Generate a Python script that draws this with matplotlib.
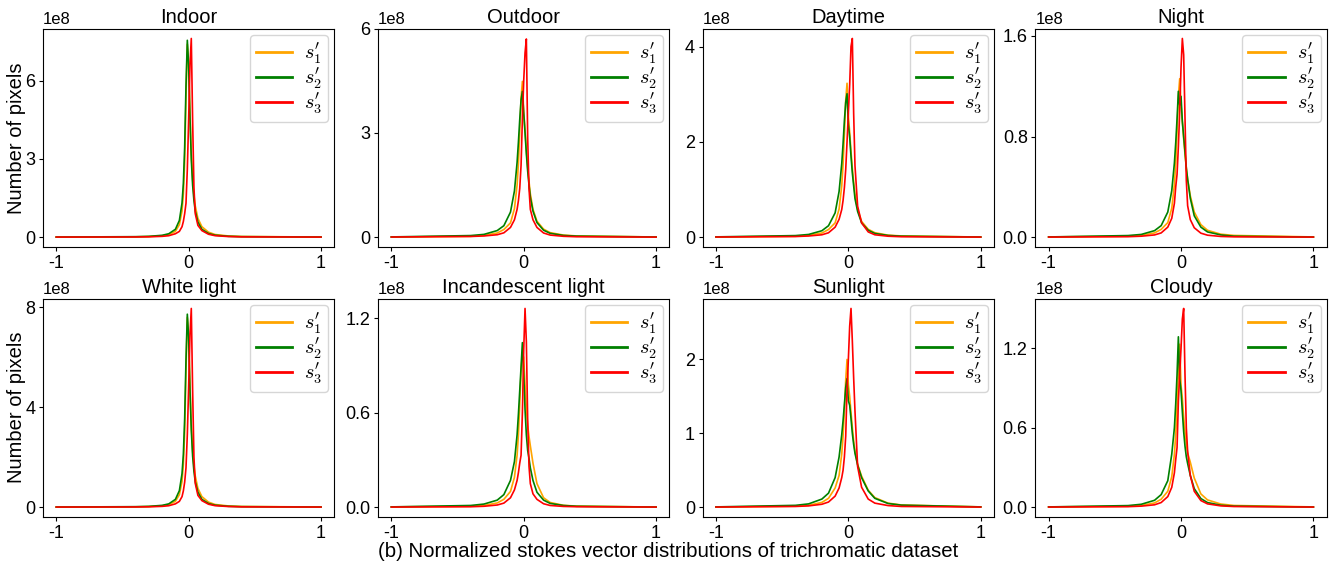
import matplotlib
matplotlib.use("Agg")
import matplotlib.pyplot as plt
from matplotlib.lines import Line2D

plt.rcParams['font.family'] = ['Liberation Sans', 'DejaVu Sans']
plt.rcParams['mathtext.fontset'] = 'cm'
plt.rcParams['axes.unicode_minus'] = False

# normalized stokes value (bin centre)
x = [-1.0, -0.4, -0.3, -0.2, -0.15, -0.1, -0.07, -0.05, -0.04, -0.03, -0.02, -0.01, 0.0,
     0.01, 0.02, 0.03, 0.04, 0.05, 0.07, 0.1, 0.15, 0.2, 0.3, 0.4, 1.0]

# pixel counts, in units of 1e8
indoor_s1 = [0.002, 0.012, 0.022, 0.05, 0.095, 0.22, 0.48, 1.0, 1.65, 2.9, 5.4, 7.4, 6.7, 4.8, 3.2, 2.2, 1.6, 1.2, 0.72, 0.4, 0.19, 0.1, 0.045, 0.025, 0.003]
indoor_s2 = [0.003, 0.017, 0.03, 0.07, 0.13, 0.30, 0.64, 1.31, 2.05, 3.45, 5.8, 7.55, 6.6, 4.6, 3.0, 2.0, 1.4, 1.0, 0.58, 0.3, 0.14, 0.075, 0.032, 0.018, 0.003]
indoor_s3 = [0.002, 0.006, 0.012, 0.03, 0.055, 0.13, 0.22, 0.4, 0.6, 0.9, 1.3, 2.6, 4.5, 6.6, 7.62, 4.5, 1.9, 0.9, 0.45, 0.25, 0.11, 0.055, 0.022, 0.01, 0.002]

outdoor_s1 = [0.004, 0.024, 0.05, 0.12, 0.22, 0.41, 0.82, 1.5, 2.12, 3.0, 3.99, 4.48, 3.6, 3.1, 2.5, 2.0, 1.6, 1.25, 0.8, 0.46, 0.23, 0.13, 0.06, 0.035, 0.005]
outdoor_s2 = [0.007, 0.046, 0.08, 0.19, 0.33, 0.72, 1.33, 2.15, 2.73, 3.38, 3.95, 4.19, 3.57, 3.0, 2.4, 1.9, 1.5, 1.15, 0.75, 0.42, 0.2, 0.11, 0.05, 0.03, 0.005]
outdoor_s3 = [0.004, 0.02, 0.035, 0.07, 0.125, 0.28, 0.5, 0.8, 1.05, 1.4, 2.07, 3.4, 4.5, 5.3, 5.7, 2.85, 1.4, 0.8, 0.5, 0.28, 0.12, 0.06, 0.025, 0.012, 0.002]

daytime_s1 = [0.003, 0.019, 0.036, 0.087, 0.16, 0.30, 0.59, 1.08, 1.52, 2.16, 2.87, 3.23, 2.54, 2.2, 1.8, 1.45, 1.16, 0.9, 0.58, 0.33, 0.165, 0.094, 0.042, 0.026, 0.003]
daytime_s2 = [0.006, 0.033, 0.057, 0.135, 0.24, 0.51, 0.96, 1.54, 1.96, 2.44, 2.83, 3.01, 2.36, 2.1, 1.7, 1.35, 1.08, 0.81, 0.54, 0.30, 0.145, 0.078, 0.036, 0.021, 0.003]
daytime_s3 = [0.003, 0.013, 0.025, 0.05, 0.092, 0.21, 0.375, 0.58, 0.77, 1.04, 1.42, 2.0, 2.6, 3.2, 4.0, 4.17, 2.6, 1.5, 0.65, 0.3, 0.11, 0.05, 0.02, 0.009, 0.002]

night_s1 = [0.002, 0.008, 0.014, 0.034, 0.062, 0.116, 0.23, 0.42, 0.59, 0.84, 1.12, 1.26, 1.05, 0.92, 0.78, 0.66, 0.55, 0.46, 0.33, 0.2, 0.1, 0.055, 0.024, 0.014, 0.002]
night_s2 = [0.002, 0.013, 0.022, 0.052, 0.092, 0.2, 0.37, 0.59, 0.75, 0.94, 1.16, 1.05, 1.12, 0.92, 0.8, 0.68, 0.55, 0.46, 0.31, 0.17, 0.08, 0.042, 0.018, 0.008, 0.001]
night_s3 = [0.001, 0.004, 0.008, 0.018, 0.034, 0.08, 0.15, 0.27, 0.4, 0.5, 0.72, 1.0, 1.35, 1.58, 1.45, 0.95, 0.45, 0.25, 0.14, 0.075, 0.032, 0.016, 0.006, 0.003, 0.001]

white_s1 = [0.002, 0.012, 0.022, 0.05, 0.1, 0.23, 0.5, 1.03, 1.7, 3.0, 5.5, 7.6, 6.9, 4.9, 3.3, 2.25, 1.65, 1.25, 0.75, 0.42, 0.2, 0.105, 0.047, 0.026, 0.003]
white_s2 = [0.003, 0.017, 0.03, 0.07, 0.13, 0.31, 0.66, 1.34, 2.1, 3.55, 5.9, 7.73, 6.8, 4.7, 3.1, 2.05, 1.43, 1.02, 0.6, 0.31, 0.145, 0.078, 0.033, 0.018, 0.003]
white_s3 = [0.002, 0.006, 0.012, 0.03, 0.056, 0.13, 0.23, 0.42, 0.65, 1.0, 1.58, 2.9, 4.8, 6.9, 7.96, 4.7, 2.0, 0.95, 0.47, 0.26, 0.115, 0.057, 0.023, 0.01, 0.002]

incand_s1 = [0.002, 0.006, 0.011, 0.027, 0.05, 0.1, 0.19, 0.33, 0.46, 0.65, 0.86, 0.98, 0.95, 0.78, 0.63, 0.52, 0.45, 0.39, 0.28, 0.15, 0.06, 0.03, 0.012, 0.007, 0.001]
incand_s2 = [0.002, 0.011, 0.02, 0.045, 0.08, 0.17, 0.29, 0.46, 0.59, 0.74, 0.89, 1.045, 0.85, 0.62, 0.46, 0.36, 0.31, 0.25, 0.17, 0.095, 0.045, 0.024, 0.011, 0.006, 0.001]
incand_s3 = [0.001, 0.003, 0.006, 0.014, 0.026, 0.06, 0.11, 0.17, 0.22, 0.28, 0.33, 0.6, 1.0, 1.262, 1.05, 0.55, 0.26, 0.15, 0.085, 0.05, 0.022, 0.011, 0.005, 0.003, 0.001]

sun_s1 = [0.002, 0.014, 0.026, 0.065, 0.12, 0.26, 0.43, 0.72, 0.96, 1.3, 1.72, 2.0, 1.66, 1.5, 1.28, 1.08, 0.9, 0.76, 0.58, 0.42, 0.23, 0.13, 0.055, 0.03, 0.004]
sun_s2 = [0.004, 0.025, 0.045, 0.11, 0.19, 0.4, 0.68, 0.98, 1.17, 1.39, 1.62, 1.74, 1.44, 1.38, 1.2, 1.0, 0.85, 0.73, 0.57, 0.4, 0.22, 0.12, 0.05, 0.028, 0.004]
sun_s3 = [0.002, 0.01, 0.018, 0.04, 0.07, 0.15, 0.26, 0.4, 0.5, 0.68, 0.96, 1.6, 2.0, 2.45, 2.69, 2.25, 1.75, 1.3, 0.55, 0.27, 0.11, 0.055, 0.022, 0.01, 0.002]

cloudy_s1 = [0.002, 0.007, 0.013, 0.032, 0.06, 0.12, 0.23, 0.4, 0.55, 0.76, 1.02, 1.23, 0.92, 0.82, 0.68, 0.57, 0.48, 0.41, 0.34, 0.22, 0.1, 0.055, 0.024, 0.013, 0.002]
cloudy_s2 = [0.002, 0.012, 0.022, 0.052, 0.095, 0.2, 0.4, 0.6, 0.78, 1.0, 1.286, 0.97, 0.88, 0.72, 0.57, 0.46, 0.38, 0.33, 0.24, 0.14, 0.065, 0.035, 0.015, 0.008, 0.001]
cloudy_s3 = [0.001, 0.004, 0.008, 0.018, 0.035, 0.08, 0.15, 0.26, 0.36, 0.45, 0.8, 1.0, 1.2, 1.42, 1.5, 1.0, 0.6, 0.42, 0.24, 0.12, 0.05, 0.025, 0.01, 0.005, 0.001]

titles = ["Indoor", "Outdoor", "Daytime", "Night",
          "White light", "Incandescent light", "Sunlight", "Cloudy"]
series = [(indoor_s1, indoor_s2, indoor_s3), (outdoor_s1, outdoor_s2, outdoor_s3),
          (daytime_s1, daytime_s2, daytime_s3), (night_s1, night_s2, night_s3),
          (white_s1, white_s2, white_s3), (incand_s1, incand_s2, incand_s3),
          (sun_s1, sun_s2, sun_s3), (cloudy_s1, cloudy_s2, cloudy_s3)]
yticks = [[0, 3, 6], [0, 3, 6], [0, 2, 4], [0, 0.8, 1.6],
          [0, 4, 8], [0, 0.6, 1.2], [0, 1, 2], [0, 0.6, 1.2]]
xticks = [-1, 0, 1]

colors = ['orange', 'green', 'red']
labels = [r"$s_1^{\prime}$", r"$s_2^{\prime}$", r"$s_3^{\prime}$"]

fig = plt.figure(figsize=(13.36, 5.66), dpi=100)

lefts = [0.0322, 0.283, 0.526, 0.775]
bottoms = [0.5636, 0.0866]
w, h = 0.218, 0.386

for i in range(8):
    r, c = divmod(i, 4)
    ax = fig.add_axes([lefts[c], bottoms[r], w, h])
    for vals, col in zip(series[i], colors):
        ax.plot(x, [v * 1e8 for v in vals], color=col, lw=1.2)
    ax.set_title(titles[i], fontsize=14.5, pad=4)
    ax.set_xticks(xticks)
    ax.set_xticklabels([str(t) for t in xticks])
    ax.set_yticks([t * 1e8 for t in yticks[i]])
    ax.tick_params(labelsize=13, length=3, pad=2.5)
    ax.yaxis.get_offset_text().set_fontsize(12)
    if c == 0:
        ax.set_ylabel("Number of pixels", fontsize=14.5)
        ax.yaxis.set_label_coords(-0.058, 0.5)
    handles = [Line2D([], [], color=col, lw=2) for col in colors]
    ax.legend(handles, labels, loc='upper right', fontsize=14.5,
              borderaxespad=0.3, borderpad=0.3, handlelength=1.8,
              handletextpad=0.6, labelspacing=0.0)

fig.text(0.5, 0.008, "(b) Normalized stokes vector distributions of trichromatic dataset",
         ha='center', va='bottom', fontsize=14.7)

fig.savefig("out.png", dpi=100)
